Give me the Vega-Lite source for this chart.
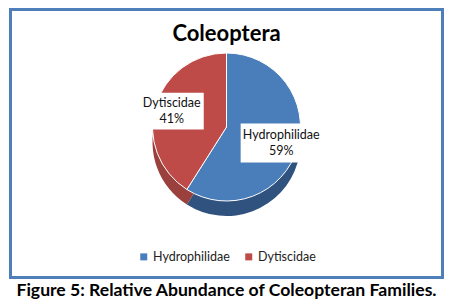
{
  "$schema": "https://vega.github.io/schema/vega-lite/v6.json",
  "background": "white",
  "padding": {"left": 8.5, "top": 7.5, "right": 0, "bottom": 0},
  "config": {
    "view": {"stroke": null},
    "font": "Lato",
    "legend": {"layout": {"bottom": {"anchor": "middle"}}}
  },
  "title": {
    "text": "Figure 5: Relative Abundance of Coleopteran Families.",
    "orient": "bottom",
    "anchor": "middle",
    "font": "Lato",
    "fontSize": 17.6,
    "fontWeight": "bold",
    "color": "#000000",
    "offset": 3
  },
  "vconcat": [
    {
      "width": 432,
      "height": 268,
      "title": {
        "text": "Coleoptera",
        "orient": "top",
        "anchor": "middle",
        "font": "Lato",
        "fontSize": 22,
        "fontWeight": "bold",
        "color": "#000000",
        "offset": -38
      },
      "data": {
        "values": [
          {"family": "Hydrophilidae", "value": 59},
          {"family": "Dytiscidae", "value": 41}
        ]
      },
      "resolve": {"scale": {"color": "independent"}},
      "layer": [
        {
          "data": {"values": [{}]},
          "mark": {"type": "rect", "fill": null, "stroke": "#4f7fb8", "strokeWidth": 3},
          "encoding": {}
        },
        {
          "mark": {"type": "arc", "outerRadius": 74, "yOffset": -1.5},
          "encoding": {
            "theta": {"field": "value", "type": "quantitative", "stack": true},
            "order": {"field": "family", "type": "ordinal", "sort": "descending"},
            "color": {
              "field": "family",
              "type": "nominal",
              "scale": {"domain": ["Hydrophilidae", "Dytiscidae"], "range": ["#30527e", "#9a403d"]},
              "legend": null
            }
          }
        },
        {
          "mark": {"type": "arc", "outerRadius": 74, "yOffset": -16.5, "stroke": "white", "strokeWidth": 1},
          "encoding": {
            "theta": {"field": "value", "type": "quantitative", "stack": true},
            "order": {"field": "family", "type": "ordinal", "sort": "descending"},
            "color": {
              "field": "family",
              "type": "nominal",
              "scale": {"domain": ["Hydrophilidae", "Dytiscidae"], "range": ["#4a7ebb", "#be4b48"]},
              "legend": {
                "title": null,
                "orient": "bottom",
                "direction": "horizontal",
                "offset": -27,
                "symbolType": "square",
                "symbolSize": 49,
                "symbolStrokeWidth": 0,
                "labelFont": "Lato",
                "labelFontSize": 12.5,
                "labelColor": "#222222",
                "columnPadding": 12,
                "labelOffset": 3
              }
            }
          }
        },
        {
          "transform": [
            {"joinaggregate": [{"op": "sum", "field": "value", "as": "total"}]},
            {"window": [{"op": "sum", "field": "value", "as": "cum"}], "sort": [{"field": "family", "order": "descending"}], "frame": [null, 0]}
          ],
          "mark": {
            "type": "point",
            "filled": true,
            "fill": "white",
            "opacity": 1,
            "strokeWidth": 0,
            "size": 6724,
            "xOffset": {"expr": "57 * sin(2 * PI * (datum.cum - datum.value / 2) / datum.total)"},
            "yOffset": {"expr": "-16.5 - 57 * cos(2 * PI * (datum.cum - datum.value / 2) / datum.total)"}
          },
          "encoding": {
            "shape": {
              "field": "family",
              "type": "nominal",
              "scale": {
                "domain": ["Hydrophilidae", "Dytiscidae"],
                "range": ["M-0.99,-0.476L0.99,-0.476L0.99,0.476L-0.99,0.476Z", "M-0.78,-0.45L0.78,-0.45L0.78,0.45L-0.78,0.45Z"]
              },
              "legend": null
            }
          }
        },
        {
          "transform": [
            {"calculate": "datum.family + '\\n' + datum.value + '%'", "as": "label"}
          ],
          "mark": {"type": "text", "radius": 57, "yOffset": -24.5, "lineBreak": "\n", "lineHeight": 16, "font": "Lato", "fontSize": 12.5, "color": "#111111", "align": "center", "baseline": "middle"},
          "encoding": {
            "theta": {"field": "value", "type": "quantitative", "stack": true},
            "order": {"field": "family", "type": "ordinal", "sort": "descending"},
            "text": {"field": "label", "type": "nominal"}
          }
        }
      ]
    }
  ]
}
